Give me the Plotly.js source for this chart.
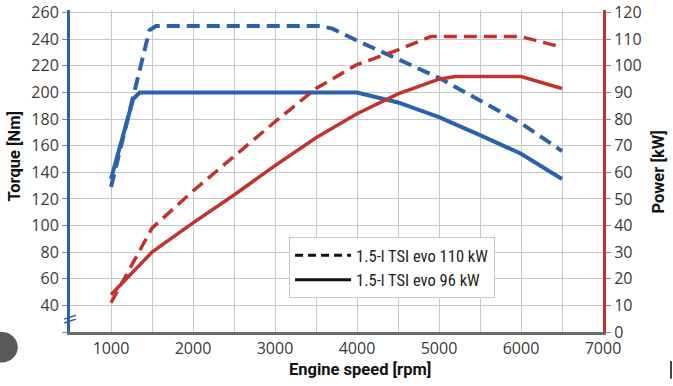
<!DOCTYPE html>
<html>
<head>
<meta charset="utf-8">
<script src="https://cdn.plot.ly/plotly-3.0.1.min.js"></script>
<style>html,body{margin:0;padding:0;background:#fff}#chart{width:673px;height:386px}</style>
</head>
<body>
<div id="chart"></div>
<script>
// ---- data ----
const rpmTorque110 = [1000, 1470, 1550, 3550, 3700, 4000, 4500, 5000, 5500, 6000, 6500];
const torque110    = [129,  247,  250,  250,  248,  239,  225,  211,  194,  177,  156];

const rpmTorque96  = [1000, 1270, 1350, 4000, 4500, 5000, 5500, 6000, 6500];
const torque96     = [135,  195,  200,  200,  192.5, 181.5, 168, 154, 135];

const rpmPower110  = [1000, 1500, 2000, 2500, 3000, 3500, 4000, 4500, 4900, 6000, 6500];
const power110     = [11,   39,   53,   66,   79,   91.5, 100.5, 106, 111,  111,  107];

const rpmPower96   = [1000, 1500, 2000, 2500, 3000, 3500, 4000, 4500, 5000, 5200, 6000, 6500];
const power96      = [14,   30,   41,   51.5, 62.5, 73,   82,   89.5, 95,   96,   96,   91.5];

const legendNames  = ['1.5-l TSI evo 110 kW', '1.5-l TSI evo 96 kW'];
const axisTitles   = {x: 'Engine speed [rpm]', y: 'Torque [Nm]', y2: 'Power [kW]'};

const xTickVals  = [1000, 1500, 2000, 2500, 3000, 3500, 4000, 4500, 5000, 5500, 6000, 6500, 7000];
const xTickText  = ['1000', '', '2000', '', '3000', '', '4000', '', '5000', '', '6000', '', '7000'];
const yTickVals  = [20, 40, 60, 80, 100, 120, 140, 160, 180, 200, 220, 240, 260];
const yTickText  = ['', '40', '60', '80', '100', '120', '140', '160', '180', '200', '220', '240', '260'];
const y2TickVals = [0, 10, 20, 30, 40, 50, 60, 70, 80, 90, 100, 110, 120];

// ---- styling ----
const BLUE = '#2a63ac';
const RED  = '#c3322b';
const DASH = '13px,7px';
const cond = '"Roboto Condensed", "Roboto", sans-serif';
const tickFont = {family: '"Open Sans", sans-serif', size: 16, color: '#3a3a3a'};
const titleFont = {family: 'Roboto, sans-serif', size: 16.5, color: '#111', weight: 'bold'};

const traces = [
  {x: rpmTorque110, y: torque110, mode: 'lines', yaxis: 'y', showlegend: false,
   line: {color: BLUE, width: 4, dash: DASH}},
  {x: rpmTorque96, y: torque96, mode: 'lines', yaxis: 'y', showlegend: false,
   line: {color: BLUE, width: 4}},
  {x: rpmPower110, y: power110, mode: 'lines', yaxis: 'y2', showlegend: false,
   line: {color: RED, width: 3.5, dash: DASH}},
  {x: rpmPower96, y: power96, mode: 'lines', yaxis: 'y2', showlegend: false,
   line: {color: RED, width: 3.5}},
  // legend entries
  {x: [null], y: [null], mode: 'lines', name: legendNames[0], yaxis: 'y',
   line: {color: '#111', width: 3, dash: '8px,5px'}},
  {x: [null], y: [null], mode: 'lines', name: legendNames[1], yaxis: 'y',
   line: {color: '#111', width: 3}}
];

const layout = {
  width: 673, height: 386,
  margin: {l: 70, r: 70, t: 10, b: 54},
  paper_bgcolor: '#fff', plot_bgcolor: '#fff',
  showlegend: true,
  xaxis: {
    range: [500, 7000], tickmode: 'array', tickvals: xTickVals, ticktext: xTickText,
    showgrid: true, gridcolor: '#c8c8c8', gridwidth: 1,
    showline: true, linecolor: '#6b6b6b', linewidth: 3, zeroline: false,
    ticks: '', tickfont: tickFont
  },
  yaxis: {
    range: [20, 262], tickmode: 'array', tickvals: yTickVals, ticktext: yTickText,
    showgrid: true, gridcolor: '#c8c8c8', gridwidth: 1,
    showline: true, linecolor: BLUE, linewidth: 3, zeroline: false,
    ticks: 'outside', ticklen: 5, tickcolor: '#888', tickwidth: 1, tickfont: tickFont
  },
  yaxis2: {
    range: [0, 121], overlaying: 'y', side: 'right', tickmode: 'array', tickvals: y2TickVals,
    showgrid: false, showline: true, linecolor: RED, linewidth: 3, zeroline: false,
    ticks: 'outside', ticklen: 5, tickcolor: '#888', tickwidth: 1, tickfont: tickFont
  },
  legend: {
    x: 0.411, y: 0.295, xanchor: 'left', yanchor: 'top',
    bgcolor: '#fff', bordercolor: '#c8c8c8', borderwidth: 1,
    font: {family: cond, size: 16.5, color: '#222'},
    itemwidth: 56, tracegroupgap: 0
  },
  annotations: [
    {text: axisTitles.x, xref: 'paper', yref: 'paper', x: 0.544, y: -0.118,
     xanchor: 'center', yanchor: 'middle', showarrow: false, font: titleFont},
    {text: axisTitles.y, xref: 'paper', yref: 'paper', x: -0.105, y: 0.545, textangle: -90,
     xanchor: 'center', yanchor: 'middle', showarrow: false, font: titleFont},
    {text: axisTitles.y2, xref: 'paper', yref: 'paper', x: 1.105, y: 0.498, textangle: -90,
     xanchor: 'center', yanchor: 'middle', showarrow: false, font: titleFont}
  ],
  shapes: [
    // axis break marks
    {type: 'line', xref: 'paper', yref: 'paper', x0: -0.011, x1: 0.011, y0: 0.040, y1: 0.052,
     line: {color: BLUE, width: 1.5}},
    {type: 'line', xref: 'paper', yref: 'paper', x0: -0.011, x1: 0.011, y0: 0.028, y1: 0.040,
     line: {color: BLUE, width: 1.5}},
    // screenshot artifacts
    {type: 'circle', xref: 'paper', yref: 'paper', x0: -0.158, x1: -0.098, y0: -0.095, y1: 0.0,
     fillcolor: '#5a5a5a', line: {width: 0}},
    {type: 'line', xref: 'paper', yref: 'paper', x0: 1.1276, x1: 1.1276, y0: -0.09, y1: -0.145,
     line: {color: '#444', width: 2}}
  ]
};

Plotly.newPlot('chart', traces, layout, {displayModeBar: false, staticPlot: true});
</script>
</body>
</html>
